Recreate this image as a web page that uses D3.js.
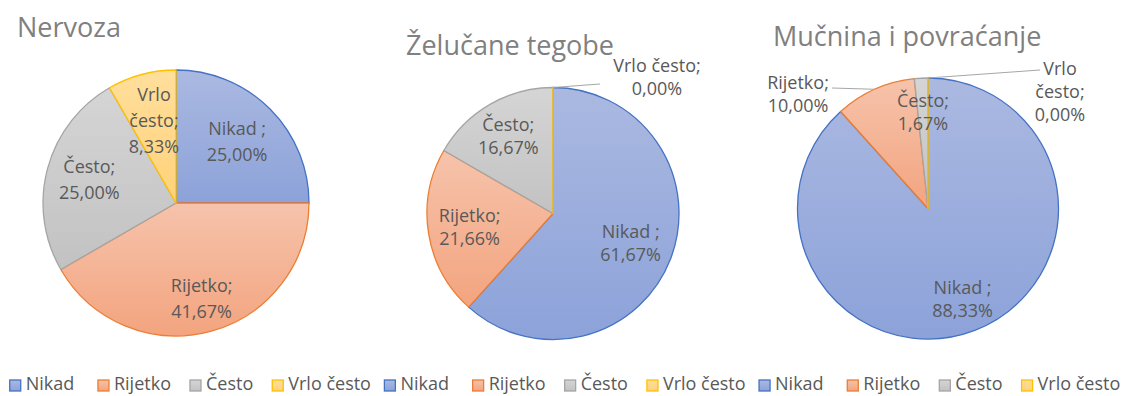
<!DOCTYPE html>
<html><head><meta charset="utf-8">
<script src="https://cdn.jsdelivr.net/npm/d3@7"></script>
<style>
html,body{margin:0;padding:0;background:#fff;}
svg{display:block;font-family:'Open Sans',sans-serif;}
text{white-space:pre;}
</style></head><body>
<svg id="chart" width="1124" height="396"></svg>
<script>
// Survey answers (percent of respondents) for three symptoms
const categories = ["Nikad ", "Rijetko", "Često", "Vrlo često"];
const nervoza = [25.00, 41.67, 25.00, 8.33];
const zelucaneTegobe = [61.67, 21.66, 16.67, 0.00];
const mucninaPovracanje = [88.33, 10.00, 1.67, 0.00];
const titles = ["Nervoza", "Želučane tegobe", "Mučnina i povraćanje"];
const seriesList = [nervoza, zelucaneTegobe, mucninaPovracanje];

// Slice styling: outline colour plus a soft vertical gradient
const palette = [
  {stroke: "#4472c4", top: "#abb9e1", bottom: "#8ca2d9"},
  {stroke: "#ed7d31", top: "#f6c3ab", bottom: "#f3a47f"},
  {stroke: "#a5a5a5", top: "#d5d5d5", bottom: "#c2c2c2"},
  {stroke: "#ffc000", top: "#ffdf9c", bottom: "#ffd27a"}
];

// Panel geometry and label placement (k = fraction of radius along the slice bisector;
// "at" = label centre relative to the pie centre, "leader" = leader line end)
const panels = [
  {cx: 176, cy: 203, r: 133, title: {x: 17, y: 37}, lineH: 26,
   labels: [{k: 0.65}, {k: 0.745}, {k: 0.675}, {k: 0.64, wrap: true}]},
  {cx: 553, cy: 213.5, r: 126, title: {x: 406, y: 55}, lineH: 23,
   labels: [{k: 0.66}, {k: 0.67}, {k: 0.71}, {at: [104, -136.5], leader: [47, -129.5]}]},
  {cx: 928, cy: 208.5, r: 130.5, title: {x: 773, y: 46}, lineH: 23,
   labels: [{k: 0.74}, {at: [-130, -114.5], leader: [-96, -120.5]}, {k: 0.74},
            {at: [132, -117.5], leader: [112, -138.5], wrap: true}]}
];

const W = 1124, H = 396;
const svg = d3.select("#chart");
const defs = svg.append("defs");

palette.forEach((p, i) => {
  const g = defs.append("linearGradient").attr("id", "grad" + i)
    .attr("x1", 0).attr("y1", 0).attr("x2", 0).attr("y2", 1);
  g.append("stop").attr("offset", "0%").attr("stop-color", p.top);
  g.append("stop").attr("offset", "100%").attr("stop-color", p.bottom);
});

const fmt = v => v.toFixed(2).replace(".", ",") + "%";
const pie = d3.pie().sort(null).value(d => d).startAngle(0).endAngle(2 * Math.PI);

seriesList.forEach((values, ci) => {
  const P = panels[ci];
  const g = svg.append("g");

  g.append("text")
    .attr("x", P.title.x).attr("y", P.title.y)
    .attr("font-size", 27).attr("fill", "#808080")
    .text(titles[ci]);

  const arc = d3.arc().innerRadius(0).outerRadius(P.r);
  const arcs = pie(values);
  const pieG = g.append("g").attr("transform", `translate(${P.cx},${P.cy})`);

  pieG.selectAll("path.slice").data(arcs).join("path")
    .attr("class", "slice")
    .attr("d", arc)
    .attr("fill", (d, i) => `url(#grad${i})`)
    .attr("stroke", (d, i) => palette[i].stroke)
    .attr("stroke-width", 1.3)
    .attr("stroke-linejoin", "round");

  // data labels
  arcs.forEach((d, i) => {
    const L = P.labels[i];
    const mid = (d.startAngle + d.endAngle) / 2;
    let lx, ly;
    if (L.at) {
      lx = L.at[0]; ly = L.at[1];
      const ax = P.r * Math.sin(mid), ay = -P.r * Math.cos(mid);
      pieG.append("line")
        .attr("x1", ax).attr("y1", ay)
        .attr("x2", L.leader[0]).attr("y2", L.leader[1])
        .attr("stroke", "#a6a6a6").attr("stroke-width", 1);
    } else {
      const rr = P.r * L.k;
      lx = rr * Math.sin(mid); ly = -rr * Math.cos(mid);
    }
    const name = categories[i] + ";";
    const lines = (L.wrap ? name.split(" ") : [name]).concat([fmt(values[i])]);
    const n = lines.length;
    const t = pieG.append("text")
      .attr("text-anchor", "middle")
      .attr("font-size", 18).attr("fill", "#595959");
    lines.forEach((s, j) => {
      t.append("tspan")
        .attr("x", lx)
        .attr("y", ly - (n - 1) * P.lineH / 2 + 6.5 + j * P.lineH)
        .text(s);
    });
  });

  // legend, centred under its panel
  const regionCenter = W / 3 * (ci + 0.5) + 3;
  const leg = g.append("g");
  const items = categories.map((c, i) => {
    const it = leg.append("g");
    it.append("rect").attr("width", 11).attr("height", 11)
      .attr("y", 380).attr("fill", `url(#grad${i})`)
      .attr("stroke", palette[i].stroke).attr("stroke-width", 1.3);
    const tx = it.append("text").attr("x", 16).attr("y", 390)
      .attr("font-size", 18).attr("fill", "#595959").text(c);
    return {it, w: tx.node().getComputedTextLength()};
  });
  const gap = 19;
  const total = d3.sum(items, d => 16 + d.w) + gap * (items.length - 1);
  let x = regionCenter - total / 2;
  items.forEach(d => {
    d.it.attr("transform", `translate(${x},0)`);
    x += 16 + d.w + gap;
  });
});
</script>
</body></html>
